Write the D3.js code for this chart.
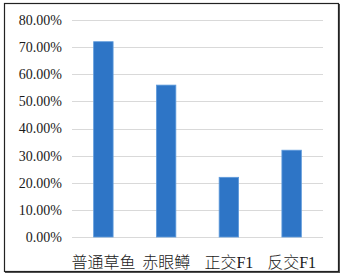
<!DOCTYPE html>
<html>
<head>
<meta charset="utf-8">
<script src="https://cdn.jsdelivr.net/npm/d3@7"></script>
<style>
  body { margin: 0; background: #fff; }
  svg { display: block; }
</style>
</head>
<body>
<div id="chart"></div>
<script>
const categories = ["普通草鱼", "赤眼鳟", "正交F1", "反交F1"];
const values = [0.72, 0.56, 0.22, 0.32];
const yTicks = [0, 0.1, 0.2, 0.3, 0.4, 0.5, 0.6, 0.7, 0.8];

const width = 345;
const height = 278;
const marginTop = 20;
const marginRight = 22;
const marginBottom = 41;
const marginLeft = 72;

const x = d3.scaleBand()
    .domain(categories)
    .range([marginLeft, width - marginRight])
    .paddingInner(0.69)
    .paddingOuter(0.345);

const y = d3.scaleLinear()
    .domain([0, 0.8])
    .range([height - marginBottom, marginTop]);

const svg = d3.select("#chart").append("svg")
    .attr("width", width)
    .attr("height", height);

// frame with a little shadow on the right and bottom
svg.append("rect")
    .attr("x", 5.5).attr("y", 4.5)
    .attr("width", 334).attr("height", 268)
    .attr("fill", "none")
    .attr("stroke", "#555")
    .attr("stroke-width", 1);
svg.append("rect")
    .attr("x", 4.5).attr("y", 3.5)
    .attr("width", 334).attr("height", 268)
    .attr("fill", "#fff")
    .attr("stroke", "#222")
    .attr("stroke-width", 1.2);

// gridlines
svg.append("g")
    .selectAll("line")
    .data(yTicks)
    .join("line")
    .attr("x1", marginLeft)
    .attr("x2", width - marginRight)
    .attr("y1", d => Math.round(y(d)) + 0.5)
    .attr("y2", d => Math.round(y(d)) + 0.5)
    .attr("stroke", "#d9d9d9")
    .attr("stroke-width", 1);

// y axis labels
const yAxis = svg.append("g")
    .attr("transform", `translate(${marginLeft - 10},0)`)
    .call(d3.axisLeft(y).tickValues(yTicks).tickFormat(d3.format(".2%")).tickSize(0).tickPadding(0));
yAxis.select(".domain").remove();
yAxis.selectAll("text")
    .attr("font-family", "'Liberation Serif', 'Times New Roman', serif")
    .attr("font-size", 14)
    .attr("fill", "#1a1a1a");

// bars
svg.append("g")
    .selectAll("rect")
    .data(values)
    .join("rect")
    .attr("x", (d, i) => x(categories[i]))
    .attr("y", d => y(d))
    .attr("width", x.bandwidth())
    .attr("height", d => y(0) - y(d))
    .attr("fill", "#2e75c6")
    .attr("stroke", "#5f9bdc")
    .attr("stroke-width", 0.8);

// x axis labels
const xAxis = svg.append("g")
    .attr("transform", `translate(0,${height - marginBottom})`)
    .call(d3.axisBottom(x).tickSize(0).tickPadding(20));
xAxis.select(".domain").remove();
xAxis.selectAll("text")
    .attr("font-family", "'Liberation Serif', 'Noto Sans CJK SC', serif")
    .attr("font-size", 16)
    .attr("font-weight", 300)
    .attr("fill", "#1a1a1a");
</script>
</body>
</html>
